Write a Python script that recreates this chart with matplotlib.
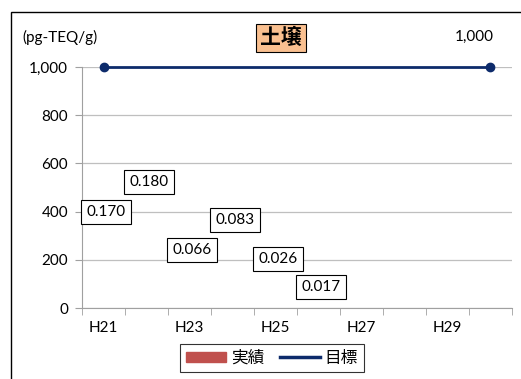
import matplotlib
matplotlib.use("Agg")
import matplotlib.pyplot as plt
from matplotlib.patches import Rectangle, Patch
from matplotlib.lines import Line2D

plt.rcParams["font.family"] = ["Lato", "Noto Sans CJK JP", "DejaVu Sans"]

# データ
years = ["H21", "H22", "H23", "H24", "H25", "H26", "H27", "H28", "H29", "H30"]
actual = [0.170, 0.180, 0.066, 0.083, 0.026, 0.017]
actual_labels = ["0.170", "0.180", "0.066", "0.083", "0.026", "0.017"]
target_years = ["H21", "H30"]
target = [1000, 1000]
yticks = [0, 200, 400, 600, 800, 1000]

# ラベル位置 (手動で配置されている)
label_y = [398, 523, 241, 365, 203, 87]

fig = plt.figure(figsize=(5.21, 3.79), dpi=100)
ax = fig.add_axes([0.1574, 0.1873, 0.8253, 0.6359])

x = list(range(len(years)))
ax.bar(x[:len(actual)], actual, width=0.5, color="#C0504D")
tx = [years.index(t) for t in target_years]
ax.plot(tx, target, color="#0D2B6B", lw=2, marker="o", ms=6, clip_on=False, zorder=5)

ax.set_xlim(-0.5, len(years) - 0.5)
ax.set_ylim(0, 1000)
ax.set_yticks(yticks)
ax.set_yticklabels([f"{v:,}" for v in yticks], fontsize=11)
ax.set_xticks(x[::2])
ax.set_xticklabels(years[::2], fontsize=11)
ax.set_xticks([i - 0.5 for i in range(len(years) + 1)], minor=True)
ax.tick_params(axis="x", which="major", length=0, pad=9)
ax.tick_params(axis="x", which="minor", length=5, color="#A0A0A0")
ax.tick_params(axis="y", length=5, color="#A0A0A0", pad=5)
ax.grid(axis="y", color="#BFBFBF", lw=0.9)
ax.set_axisbelow(True)
for s in ["top", "right"]:
    ax.spines[s].set_visible(False)
for s in ["left", "bottom"]:
    ax.spines[s].set_color("#A0A0A0")

# 実績ラベル
for i, (lab, yy) in enumerate(zip(actual_labels, label_y)):
    ax.text(i + 0.05, yy, lab, ha="center", va="center", fontsize=11,
            bbox=dict(boxstyle="square,pad=0.35", fc="white", ec="black", lw=0.8))

# 目標ラベル
ax.annotate("1,000", (tx[-1], target[-1]), xytext=(-12, 22), textcoords="offset points",
            ha="center", va="center", fontsize=11, annotation_clip=False)

fig.text(22 / 521, 1 - 37 / 379, "(pg-TEQ/g)", fontsize=11, va="center", ha="left")
fig.text(281 / 521, 1 - 38 / 379, "土壌", fontsize=15, fontweight="bold", ha="center", va="center",
         bbox=dict(boxstyle="square,pad=0.2", fc="#FAC090", ec="black", lw=0.8))

# 外枠
fig.patches.append(Rectangle((11 / 521, -0.1), 1.1, 1 - 12 / 379 + 0.1, transform=fig.transFigure,
                             fill=False, ec="black", lw=1))

handles = [Patch(color="#C0504D"), Line2D([0], [0], color="#0D2B6B", lw=2.5)]
leg = fig.legend(handles, ["実績", "目標"], loc="center", bbox_to_anchor=(272 / 521, 1 - 358 / 379),
                 ncol=2, fontsize=12, frameon=True, fancybox=False, edgecolor="black",
                 handlelength=2.4, handleheight=0.6, columnspacing=0.9, handletextpad=0.3,
                 borderpad=0.35, borderaxespad=0)
leg.get_frame().set_linewidth(0.8)

fig.savefig("out.png", dpi=100)
